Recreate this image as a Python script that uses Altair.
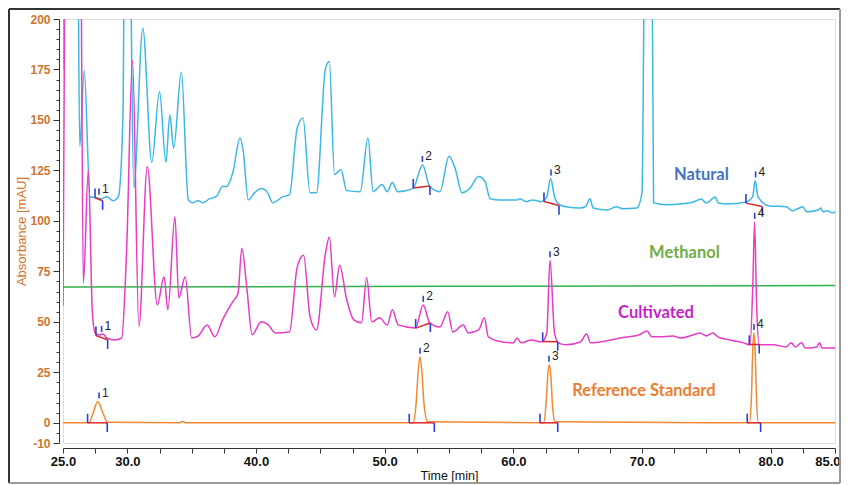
import altair as alt
import pandas as pd

# ---------------- data ----------------
natural_t = [25.0, 25.05, 26.12, 26.3, 26.65, 27.1, 27.6, 28.0, 28.4, 28.9, 29.3, 29.66, 29.8, 30.15,
             30.5, 31.2, 31.9, 32.5, 33.0, 33.3, 33.6, 34.2, 34.74, 35.1, 35.5, 35.9, 36.4, 36.9,
             37.4, 37.7, 38.2, 38.76, 39.0, 39.4, 39.9, 40.4, 40.9, 41.3, 42.1, 42.6, 43.2, 43.65,
             44.2, 44.7, 45.4, 45.7, 46.1, 46.6, 47.05, 48.1, 48.7, 49.1, 49.8, 50.2, 50.6, 51.0,
             52.2, 52.95, 53.5, 54.3, 55.0, 55.5, 56.0, 56.6, 57.3, 57.8, 58.2, 59.0, 60.3, 60.5,
             61.0, 61.5, 62.2, 62.6, 62.9, 63.2, 63.6, 64.1, 65.2, 65.6, 65.96, 66.2, 67.3, 68.0,
             68.5, 69.6, 70.0, 70.25, 70.75, 70.9, 71.9, 73.0, 74.0, 74.6, 75.0, 75.7, 75.9, 76.6,
             78.1, 78.6, 78.8, 79.0, 79.9, 81.2, 81.7, 82.1, 82.5, 82.8, 83.7, 83.9, 84.05, 84.4,
             84.8, 85.0]
natural_v = [175, 260, 260, 137, 174.5, 112, 111.5, 111, 112, 110, 112, 152, 260, 260,
             116.5, 195.4, 129, 164, 129, 152.5, 136, 173.6, 110.4, 109, 110, 109, 111, 112,
             117, 117, 124, 141, 135, 110.4, 114, 116, 114, 109, 112, 113, 146, 151,
             114, 114, 175.6, 179, 123, 125.5, 115, 114.5, 141, 114.5, 118, 114.5, 119, 114.5,
             116, 127.7, 117, 114.5, 132, 125.5, 114, 116, 122, 119.5, 111, 110.4, 110.4, 111,
             109.5, 110.4, 109.5, 112, 121, 112, 108, 107, 106.4, 107, 111, 106.4, 105.4, 107,
             106, 106.4, 114, 260, 260, 109, 108, 108.4, 109.4, 110.9, 108.9, 111.9, 109, 108.4,
             109.4, 112, 120, 112, 107.4, 107, 105, 106, 107, 104.5, 105.4, 106.4, 104.5, 105,
             104, 104.5]

methanol_t = [25.0, 55.0, 85.0]
methanol_v = [67.3, 67.6, 68.0]

cultivated_t = [25.0, 25.25, 26.35, 26.58, 26.97, 27.28, 27.5, 27.8, 28.1, 28.4, 29.0, 29.56, 29.95,
                30.4, 30.9, 31.55, 32.33, 32.85, 33.15, 33.7, 34.0, 34.5, 35.0, 35.5, 36.2, 36.8,
                37.4, 38.2, 38.6, 38.9, 39.3, 39.7, 40.4, 40.95, 41.5, 42.6, 43.2, 43.7, 44.2, 44.7,
                45.4, 45.7, 46.1, 46.5, 47.05, 47.6, 48.2, 48.6, 49.0, 49.6, 50.2, 50.6, 51.05,
                52.4, 53.0, 53.5, 54.3, 54.9, 55.3, 56.1, 56.5, 57.3, 57.75, 58.05, 58.8, 60.0,
                60.3, 60.6, 61.4, 62.2, 62.6, 62.85, 63.2, 63.5, 64.1, 65.2, 65.7, 66.0, 66.7,
                68.3, 69.8, 70.4, 70.75, 71.4, 72.4, 73.0, 74.0, 74.5, 75.0, 75.5, 75.9, 76.8,
                77.9, 78.4, 78.62, 78.75, 78.9, 79.1, 80.2, 81.2, 81.6, 81.9, 82.4, 82.7, 83.6,
                83.8, 84.0, 84.9, 85.0]
cultivated_v = [58, 260, 260, 69.2, 125.2, 55, 44.5, 43.5, 44, 42, 41, 42, 86.6,
                179.7, 47.7, 126.9, 58.4, 72.4, 56, 102, 61.9, 72.4, 42, 43, 48.5, 42.6,
                51, 60, 64, 86.5, 66, 43.6, 50, 48.5, 44.5, 45, 77, 83, 52.5, 46,
                84, 92, 62.4, 78, 61, 51, 49.5, 71.8, 50, 52, 48.5, 56, 48.5,
                47, 58.4, 49.5, 47.5, 55, 45, 48.5, 44.5, 46, 52, 42.6, 40.5, 39.6,
                42, 39.6, 41, 40, 44.5, 80.5, 44.5, 39.6, 38.6, 40, 44, 39.6, 40,
                42, 43.6, 45.5, 42.6, 42.6, 43, 42, 43.6, 44.5, 43, 44.5, 42.6, 41,
                39.6, 38.6, 70, 99.5, 60, 38.6, 38.6, 37.6, 39.6, 37.5, 39.6, 37, 37.6,
                39.6, 37, 37, 37]

reference_t = [25.0, 27.0, 27.35, 27.7, 28.1, 28.45, 34.0, 34.3, 34.6, 52.2, 52.45, 52.6, 52.75,
               52.9, 53.05, 53.35, 62.35, 62.55, 62.68, 62.8, 62.93, 63.05, 63.25, 78.35, 78.5,
               78.62, 78.7, 78.78, 78.9, 79.05, 85.0]
reference_v = [0, 0, 5, 10.5, 5, 0.3, 0, 0.6, 0, 0, 10, 25, 32.7,
               25, 10, 0.5, 0, 10, 24, 28.7, 22, 8, 0.5, 0, 12,
               38, 44.5, 38, 12, 0, 0]

series_names = ["Natural", "Methanol", "Cultivated", "Reference Standard"]
line_colors = ["#3cb8e6", "#33b24c", "#e63cc6", "#f08a34"]
label_colors = ["#4472c4", "#70ad47", "#c81ec8", "#ed7d31"]
label_t = [74.62, 73.3, 71.09, 70.15]
label_v = [122.8, 84.2, 54.5, 15.8]

peak_series = ["Natural"] * 4 + ["Cultivated"] * 4 + ["Reference Standard"] * 4
peak_num = ["1", "2", "3", "4"] * 3
peak_start_t = [27.49, 52.22, 62.38, 78.08, 27.56, 52.41, 62.28, 78.34, 26.91, 51.91, 62.07, 78.18]
peak_start_v = [111.5, 116.3, 109.6, 108.8, 43.2, 46.9, 40.3, 38.8, 0, 0, 0, 0]
peak_apex_t = [27.80, 52.93, 62.93, 78.83, 28.00, 53.00, 62.85, 78.76, 27.80, 52.75, 62.77, 78.70]
peak_apex_v = [111.5, 127.7, 121.0, 120.0, 43.5, 58.4, 80.5, 99.5, 10.5, 32.7, 28.7, 44.5]
peak_end_t = [28.08, 53.52, 63.55, 79.35, 28.47, 53.55, 63.45, 79.11, 28.44, 53.86, 63.45, 79.22]
peak_end_v = [110.0, 117.3, 107.6, 107.1, 41.1, 49.4, 40.2, 38.8, 0, 0, 0, 0]

x_tick_values = [25 + 2.5 * i for i in range(25)]
x_label_values = [25, 30, 40, 50, 60, 70, 80, 85]
y_tick_values = list(range(-10, 201, 5))

# ---------------- tables ----------------
traces = pd.concat([
    pd.DataFrame({"t": natural_t, "v": natural_v, "s": "Natural"}),
    pd.DataFrame({"t": methanol_t, "v": methanol_v, "s": "Methanol"}),
    pd.DataFrame({"t": cultivated_t, "v": cultivated_v, "s": "Cultivated"}),
    pd.DataFrame({"t": reference_t, "v": reference_v, "s": "Reference Standard"}),
])
labels = pd.DataFrame({"s": series_names, "t": label_t, "v": label_v, "c": label_colors})
peaks = pd.DataFrame({
    "s": peak_series, "n": peak_num,
    "t0": peak_start_t, "v0": peak_start_v,
    "ta": peak_apex_t, "va": peak_apex_v,
    "t1": peak_end_t, "v1": peak_end_v,
})
peaks["s0a"] = peaks["v0"]
peaks["s0b"] = peaks["v0"] + 4.5
peaks["saa"] = peaks["va"] + 1.5
peaks["sab"] = peaks["va"] + 4.5
peaks["s1a"] = peaks["v1"] - 4.5
peaks["s1b"] = peaks["v1"]
peaks["lv"] = peaks["va"] + 4.3

ORANGE = "#cf7630"
xscale = alt.Scale(domain=[25, 85], nice=False, zero=False)
yscale = alt.Scale(domain=[-10, 200], nice=False, zero=False)

label_test = "indexof([" + ",".join(str(v) for v in x_label_values) + "], datum.value) >= 0"
last_test = "datum.value === " + str(x_label_values[-1])
x_axis = alt.Axis(
    values=x_tick_values,
    labelExpr=label_test + " ? format(datum.value, '.1f') : ''",
    labelAlign={"condition": {"test": last_test, "value": "right"}, "value": "center"},
    labelOffset={"condition": {"test": last_test, "value": 5}, "value": 0},
    title="Time [min]", grid=False, offset=5, tickSize=5, tickColor="#333",
    domainColor="#333", labelFont="Liberation Sans", labelFontSize=13, labelFontWeight="bold",
    labelColor="#111", labelPadding=2, labelFlush=False, labelOverlap=False, labelBound=False,
    titleFont="Liberation Sans", titleFontSize=12.5, titleFontWeight="normal", titleColor="#111",
    titlePadding=1,
)
major_test = "datum.value % 25 === 0 || datum.value === -10"
y_axis = alt.Axis(
    values=y_tick_values,
    labelExpr="(" + major_test + ") ? datum.value : ''",
    title="Absorbance [mAU]", grid=False, offset=4,
    tickSize={"condition": {"test": major_test, "value": 6}, "value": 3},
    tickColor="#333", domainColor="#333",
    labelFont="Liberation Sans", labelFontSize=12, labelFontWeight="bold", labelColor=ORANGE,
    labelPadding=3, labelFlush=False, labelOverlap=False, labelBound=False,
    titleFont="Liberation Sans", titleFontSize=13, titleFontWeight="normal", titleColor=ORANGE,
    titlePadding=1,
)


def X(field):
    return alt.X(field, type="quantitative", scale=xscale, axis=x_axis)


def Y(field):
    return alt.Y(field, type="quantitative", scale=yscale, axis=y_axis)


lines = alt.Chart(traces).mark_line(clip=True, strokeWidth=1.5, interpolate="monotone").encode(
    x=X("t"), y=Y("v"),
    color=alt.Color("s:N", scale=alt.Scale(domain=series_names, range=line_colors), legend=None),
    detail="s:N",
)

base_p = alt.Chart(peaks)
red = base_p.mark_rule(color="#e0242c", strokeWidth=1.5, clip=True).encode(
    x=X("t0"), x2="t1:Q", y=Y("v0"), y2="v1:Q")
blue_kw = dict(color="#2b3fd9", strokeWidth=1.6, clip=True)
tick0 = base_p.mark_rule(**blue_kw).encode(x=X("t0"), y=Y("s0a"), y2="s0b:Q")
ticka = base_p.mark_rule(**blue_kw).encode(x=X("ta"), y=Y("saa"), y2="sab:Q")
tick1 = base_p.mark_rule(**blue_kw).encode(x=X("t1"), y=Y("s1a"), y2="s1b:Q")
nums = base_p.mark_text(align="left", baseline="middle", dx=3, font="Liberation Sans",
                        fontSize=12, color="#222").encode(x=X("ta"), y=Y("lv"), text="n:N")

names = alt.Chart(labels).mark_text(font="Lato", fontSize=16.5, fontWeight="bold",
                                    align="center", baseline="middle").encode(
    x=X("t"), y=Y("v"), text="s:N", color=alt.Color("c:N", scale=None))

# outer frame of the figure (pixel positions relative to the plot origin)
frame_top = alt.Chart(labels).mark_rule(color="#333", strokeWidth=2).encode(
    x=alt.value(-54), x2=alt.value(777), y=alt.value(-10))
frame_left = alt.Chart(labels).mark_rule(color="#333", strokeWidth=2).encode(
    x=alt.value(-54), y=alt.value(-10), y2=alt.value(464))
frame_right = alt.Chart(labels).mark_rule(color="#999", strokeWidth=1.5).encode(
    x=alt.value(777), y=alt.value(-10), y2=alt.value(464))
frame_bottom = alt.Chart(labels).mark_rule(color="#999", strokeWidth=1.5).encode(
    x=alt.value(-54), x2=alt.value(777), y=alt.value(464))

chart = alt.layer(
    lines, red, tick0, ticka, tick1, nums, names,
    frame_top, frame_left, frame_right, frame_bottom,
).properties(
    width=772, height=424, autosize="none",
    padding={"left": 55, "top": 11, "right": 6, "bottom": 42},
).configure_view(stroke=None).configure(background="white")

chart.save("out.html", embed_options={"renderer": "svg", "actions": False})
